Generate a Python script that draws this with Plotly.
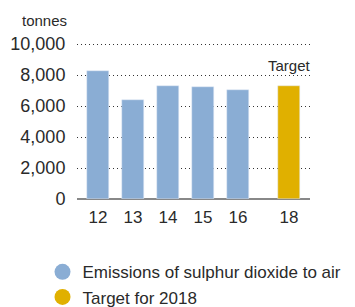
import plotly.graph_objects as go

years = ["12", "13", "14", "15", "16", "18"]
emissions = [8250, 6400, 7300, 7250, 7050]
target_2018 = 7300
y_ticks = [0, 2000, 4000, 6000, 8000, 10000]
y_tick_labels = ["0", "2,000", "4,000", "6,000", "8,000", "10,000"]

blue = "#8AADD4"
gold = "#E0B000"
font = "Liberation Sans"
txt = "#2a2a2a"

# layout positions: extra gap before the target bar
pos = [0, 1, 2, 3, 4, 5.46]

fig = go.Figure()
fig.add_trace(go.Bar(x=pos[:5], y=emissions, marker_color=blue, width=0.63,
                     showlegend=False, hoverinfo="skip"))
fig.add_trace(go.Bar(x=[pos[5]], y=[target_2018], marker_color=gold, width=0.63,
                     showlegend=False, hoverinfo="skip"))
fig.add_trace(go.Scatter(x=[None], y=[None], mode="markers",
                         marker=dict(color=blue, size=16, symbol="circle"),
                         name="Emissions of sulphur dioxide to air"))
fig.add_trace(go.Scatter(x=[None], y=[None], mode="markers",
                         marker=dict(color=gold, size=16, symbol="circle"),
                         name="Target for 2018"))

fig.add_annotation(x=pos[5], y=target_2018, yshift=10, text="Target", showarrow=False,
                   xanchor="center", yanchor="bottom",
                   font=dict(family=font, size=15, color=txt))
fig.add_annotation(x=0, xref="paper", xshift=-8, y=1, yref="paper", yshift=10,
                   text="tonnes", showarrow=False, xanchor="right", yanchor="bottom",
                   font=dict(family=font, size=15, color=txt))

fig.update_layout(
    width=355, height=307,
    margin=dict(l=77, r=45, t=41, b=108, autoexpand=False),
    plot_bgcolor="white", paper_bgcolor="white",
    font=dict(family=font, color=txt, size=17),
    bargap=0,
    xaxis=dict(range=[-0.6, 5.46 + 0.6], tickvals=pos, ticktext=years,
               showgrid=False, zeroline=False, showline=False,
               ticks="outside", ticklen=3, tickcolor="rgba(0,0,0,0)",
               tickfont=dict(size=17, color=txt)),
    yaxis=dict(range=[0, 10200], tickvals=y_ticks, ticktext=y_tick_labels,
               showgrid=True, gridcolor="#333333", griddash="1px,3px", gridwidth=1,
               zeroline=True, zerolinecolor="#888888", zerolinewidth=2,
               showline=False, ticks="outside", ticklen=7, tickcolor="rgba(0,0,0,0)",
               tickfont=dict(size=18, color=txt)),
    legend=dict(x=-0.148, xanchor="left", y=-0.35, yanchor="top",
                font=dict(family=font, size=17, color=txt),
                tracegroupgap=0, itemsizing="trace"),
)

fig.write_html("out.html", post_script="document.body.style.margin='0';",
               config={"displayModeBar": False})
